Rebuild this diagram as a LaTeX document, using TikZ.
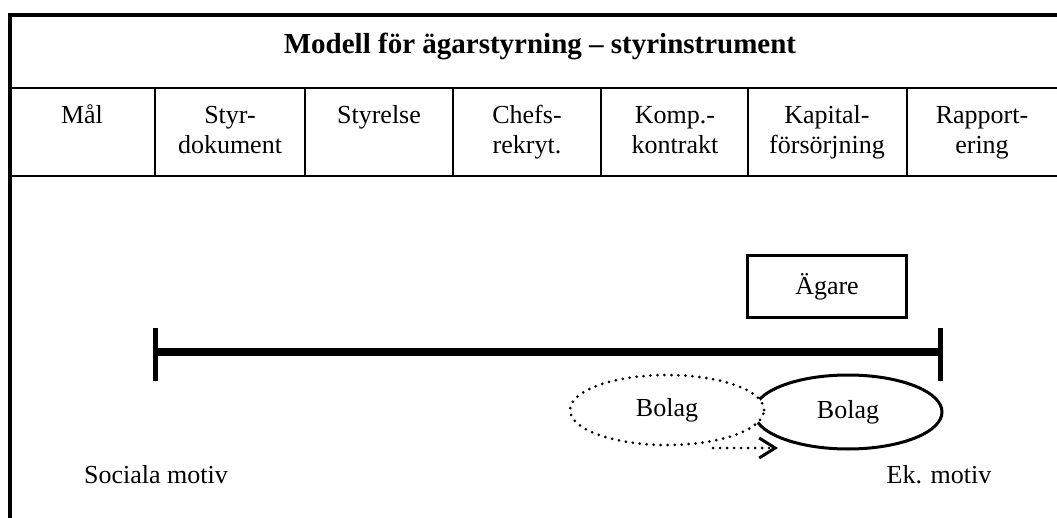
\documentclass[tikz,border=0pt]{standalone}
\usepackage{fontspec}
\setmainfont{Liberation Serif}
\usetikzlibrary{arrows.meta,shapes.geometric}
\begin{document}
\begin{tikzpicture}[x=1pt,y=-1pt,
  frame/.style={line width=4pt},
  grid/.style={line width=2.5pt},
  hdr/.style={anchor=north,inner sep=0pt,align=center,font=\fontsize{26}{30}\selectfont},
  lbl/.style={inner sep=0pt,font=\fontsize{26}{30}\selectfont},
  bar/.style={line width=8pt},
  tick/.style={line width=5pt},
  solidell/.style={ellipse,draw,line width=3pt,inner sep=0pt,minimum width=188pt,minimum height=74pt,font=\fontsize{26}{30}\selectfont},
  dotell/.style={ellipse,draw,fill=white,line width=3pt,dash pattern=on 0pt off 7pt,line cap=round,inner sep=0pt,minimum width=194pt,minimum height=70pt,font=\fontsize{26}{30}\selectfont},
  dotarrow/.style={line width=3pt,dash pattern=on 0pt off 7pt,line cap=round,-{Straight Barb[length=16pt,width=20pt,line width=3pt,line cap=butt]}},
  ownerbox/.style={draw,line width=3pt,minimum width=159pt,minimum height=62pt,inner sep=0pt,font=\fontsize{26}{30}\selectfont}
]
\useasboundingbox (0,0) rectangle (1057,518);
% frame
\coordinate (tl) at (10,15);
\coordinate (tr) at (1057,15);
\coordinate (bl) at (10,518);
\draw[frame] (bl) -- (tl) -- (tr);
\coordinate (r1l) at (10,88);
\coordinate (r1r) at (1057,88);
\coordinate (r2l) at (10,176);
\coordinate (r2r) at (1057,176);
\draw[grid] (r1l) -- (r1r);
\draw[grid] (r2l) -- (r2r);
\foreach \x/\n in {155/a,305/b,453/c,601/d,748/e,907/f}{
  \coordinate (v\n t) at (\x,88);
  \coordinate (v\n b) at (\x,176);
  \draw[grid] (v\n t) -- (v\n b);
}
% title
\node[anchor=base,inner sep=0pt,font=\fontsize{29}{34}\selectfont\bfseries] (title) at (540,54) {Modell för ägarstyrning – styrinstrument};
% headers
\node[hdr] (h1) at (82,102) {\strut Mål};
\node[hdr] (h2) at (230,102) {\strut Styr-\\\strut dokument};
\node[hdr] (h3) at (379,102) {\strut Styrelse};
\node[hdr] (h4) at (527,102) {\strut Chefs-\\\strut rekryt.};
\node[hdr] (h5) at (675,102) {\strut Komp.-\\\strut kontrakt};
\node[hdr] (h6) at (827,102) {\strut Kapital-\\\strut försörjning};
\node[hdr] (h7) at (982,102) {\strut Rapport-\\\strut ering};
% owner
\node[ownerbox] (agare) at (827,286.5) {Ägare};
% bar
\coordinate (barL) at (155,352);
\coordinate (barR) at (940,352);
\draw[bar] (barL) -- (barR);
\coordinate (tLt) at (155,328);
\coordinate (tLb) at (155,381);
\coordinate (tRt) at (940,328);
\coordinate (tRb) at (940,381);
\draw[tick] (tLt) -- (tLb);
\draw[tick] (tRt) -- (tRb);
% ellipses
\node[solidell] (bolag2) at (848,412) {Bolag};
\node[dotell] (bolag1) at (667,410) {Bolag};
\coordinate (arrS) at (713,448);
\coordinate (arrE) at (778,448);
\draw[dotarrow] (arrS) -- (arrE);
% motives
\node[lbl,anchor=base] (soc) at (156,483) {Sociala motiv};
\node[lbl,anchor=base] (ek) at (939,483) {Ek. motiv};
\end{tikzpicture}
\end{document}
